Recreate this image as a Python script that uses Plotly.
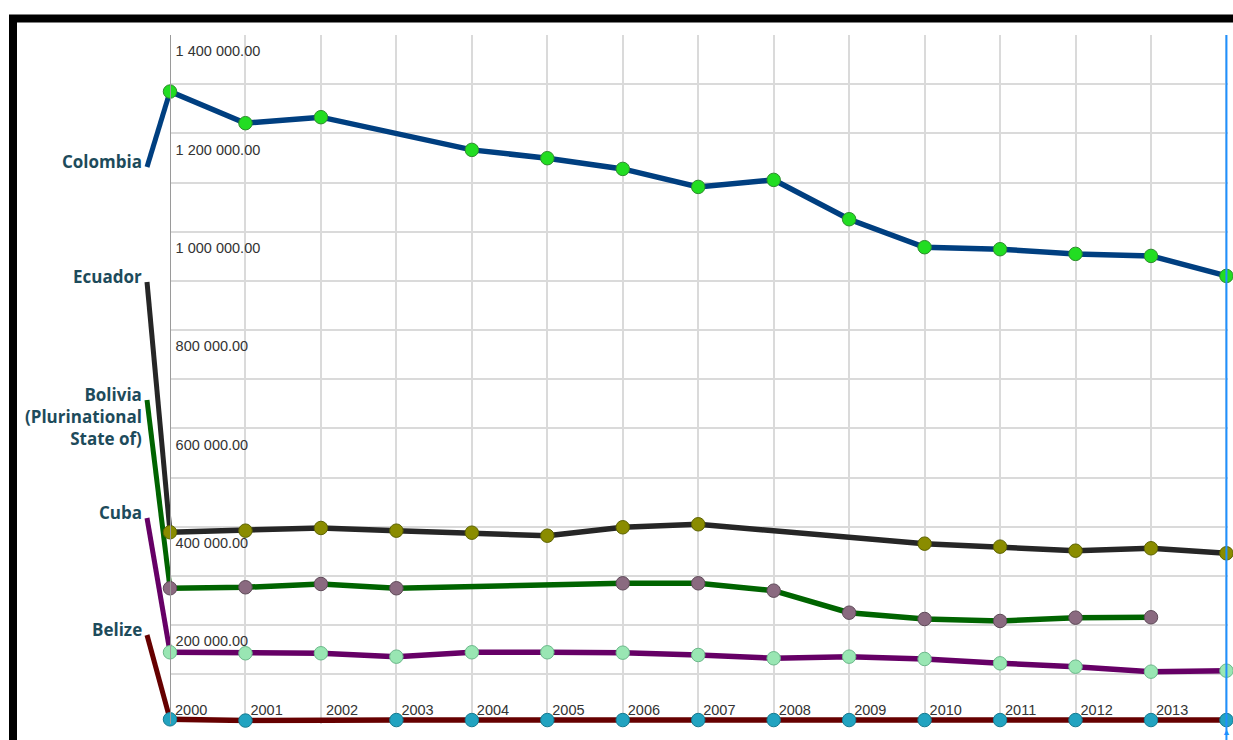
import plotly.graph_objects as go

# ---------------- data ----------------
years = list(range(2000, 2015))
countries = ["Colombia", "Ecuador", "Bolivia (Plurinational State of)", "Cuba", "Belize"]
colombia = [1285000, 1220700, 1232900, None, 1166400, 1149500, 1127700, 1091100,
            1105400, 1025400, 968500, 964400, 954900, 950800, 910100]
ecuador = [388900, 392100, 397600, 392100, 388000, 381900, 399000, 405100,
           None, None, 365700, 359600, 351400, 356300, 346100]
bolivia = [275000, 277000, 283700, 275000, None, None, 285100, 285100,
           270100, 225300, 212500, 208500, 215200, 216000, None]
cuba = [144800, 142800, 142800, 135900, 144800, 144800, 144000, 139300,
        132600, 135900, 131200, 122400, 115500, 105400, 107400]
belize = [8500, 6000, None, 7000, 7000, 7000, 7000, 7000,
          7000, 7000, 7000, 7000, 7000, 7000, 7000]
y_ticks = [200000, 400000, 600000, 800000, 1000000, 1200000, 1400000]
x_tick_text = [str(y) for y in years[:-1]] + [""]

series = [colombia, ecuador, bolivia, cuba, belize]
label_text = ["Colombia", "Ecuador", "Bolivia<br>(Plurinational<br>State of)", "Cuba", "Belize"]

# ---------------- styles / layout ----------------
line_colors = ["#003f80", "#262626", "#006400", "#660066", "#660000"]
marker_colors = ["#22dd22", "#8a8c00", "#8a6a80", "#99e6b3", "#22a3c0"]
marker_lines = ["#2e8b2e", "#5c6200", "#5e4a58", "#6bb88a", "#167a90"]
# where each left-hand label's connector starts (value units)
label_anchor_y = [1131800, 897900, 657900, 417900, 180000]

W, H = 1233, 740
PLOT_L, PLOT_R, PLOT_T, PLOT_B = 170, 1228, 35, 723.5
CONN_L = 140
PX_PER_YEAR = 75.46
YMAX = 1400000

x_end = years[0] + (PLOT_R - PLOT_L) / PX_PER_YEAR
x2_start = years[0] - (PLOT_L - CONN_L) / PX_PER_YEAR
label_x = years[0] - (PLOT_L - 147) / PX_PER_YEAR

ydom = [(H - PLOT_B) / H, (H - PLOT_T) / H]
tick_font = dict(family="Liberation Sans, Arial", size=14.5, color="#333333")

fig = go.Figure()

# connectors from labels to first point
for i, s in enumerate(series):
    fig.add_trace(go.Scatter(
        x=[label_x, years[0]], y=[label_anchor_y[i], s[0]],
        mode="lines", line=dict(color=line_colors[i], width=5),
        xaxis="x2", yaxis="y2", hoverinfo="skip", showlegend=False))

# main series (draw bottom ones first)
for i in reversed(range(len(series))):
    fig.add_trace(go.Scatter(
        x=years, y=series[i], name=countries[i],
        mode="lines+markers", connectgaps=True,
        line=dict(color=line_colors[i], width=5.5),
        marker=dict(color=marker_colors[i], size=13.5,
                    line=dict(color=marker_lines[i], width=1)),
        cliponaxis=False, xaxis="x2", yaxis="y2", showlegend=False))

annotations = []
for i, t in enumerate(label_text):
    annotations.append(dict(
        x=label_x, y=label_anchor_y[i], xref="x2", yref="y2",
        text=t, showarrow=False, xanchor="right", yanchor="top", align="right",
        xshift=-3, yshift=19,
        font=dict(family="Open Sans", size=17, color="#1d4b5b", weight="bold")))
annotations.append(dict(
    x=years[-1], y=0, xref="x", yref="paper", text="▲", showarrow=False,
    xanchor="center", yanchor="bottom", yshift=0,
    font=dict(size=9, color="#1e90ff")))

fig.update_layout(
    width=W, height=H,
    margin=dict(l=0, r=0, t=0, b=0),
    paper_bgcolor="white", plot_bgcolor="rgba(0,0,0,0)",
    separators=". ",
    showlegend=False,
    xaxis=dict(
        domain=[PLOT_L / W, PLOT_R / W], range=[years[0], x_end],
        tickvals=years, ticktext=x_tick_text, ticklabelposition="inside right",
        ticklabelshift=5,
        tickfont=tick_font,
        showgrid=True, gridcolor="#dadada", gridwidth=1.5,
        zeroline=False, showline=False, ticks="", anchor="y"),
    yaxis=dict(
        domain=ydom, range=[0, YMAX],
        tickvals=y_ticks, showticklabels=False,
        showgrid=True, gridcolor="#dadada", gridwidth=1.5,
        minor=dict(dtick=100000, showgrid=True, gridcolor="#dadada", gridwidth=1.5),
        zeroline=False, showline=False, ticks="", anchor="x"),
    xaxis2=dict(domain=[CONN_L / W, PLOT_R / W], range=[x2_start, x_end],
                visible=False, anchor="y2"),
    yaxis2=dict(domain=ydom, range=[0, YMAX], anchor="free", position=PLOT_L / W,
                tickvals=y_ticks, tickformat=",.2f", ticklabelposition="inside bottom",
                ticklabelshift=6, ticklabelstandoff=4,
                tickfont=tick_font, showgrid=False, zeroline=False,
                showline=True, linecolor="#9a9a9a", linewidth=1, ticks=""),
    annotations=annotations,
    shapes=[
        dict(type="line", xref="x", yref="paper", x0=years[-1], x1=years[-1],
             y0=0, y1=ydom[1], line=dict(color="#1e90ff", width=2)),
        dict(type="rect", xref="paper", yref="paper",
             x0=13 / W, x1=1.05, y0=-0.05, y1=1 - 18.5 / H,
             line=dict(color="black", width=8)),
    ],
)

fig.write_html("out.html", config={"displayModeBar": False},
               post_script="document.body.style.margin='0';document.body.style.overflow='hidden';")
